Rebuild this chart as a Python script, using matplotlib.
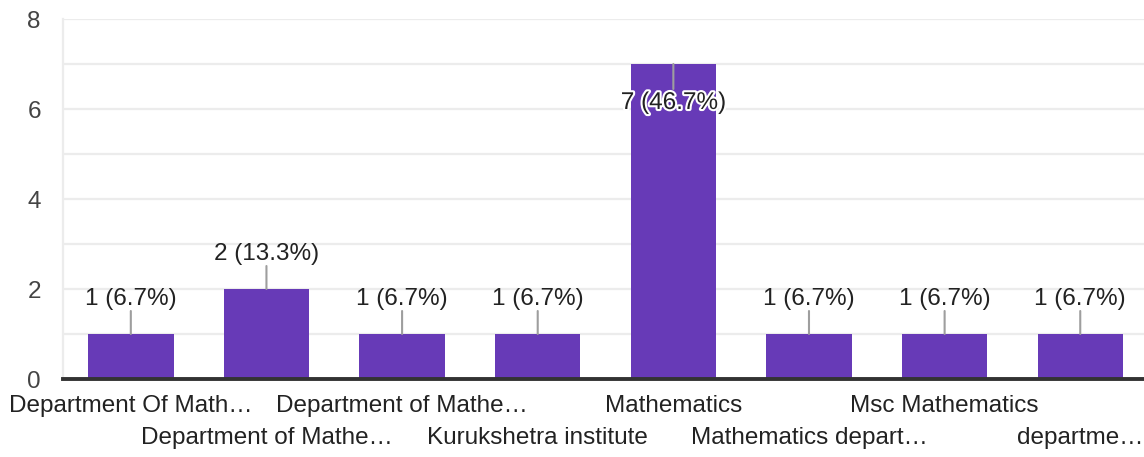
import matplotlib
matplotlib.use("Agg")
import matplotlib.pyplot as plt
import matplotlib.patheffects as pe
import numpy as np

categories = [
    "Department Of Math…",
    "Department of Mathe…",
    "Department of Mathe…",
    "Kurukshetra institute",
    "Mathematics",
    "Mathematics depart…",
    "Msc Mathematics",
    "departme…",
]
counts = [1, 2, 1, 1, 7, 1, 1, 1]
total = sum(counts)

PURPLE = "#673ab7"
TEXT = "#222222"

plt.rcParams["font.family"] = ["Liberation Sans", "DejaVu Sans"]
FS = 17.5

fig = plt.figure(figsize=(11.44, 4.57), dpi=100)
ax = fig.add_axes([63 / 1144, 78 / 457, (1144 - 63) / 1144, 360 / 457])

x = np.arange(len(categories))
ax.bar(x, counts, width=0.63, color=PURPLE, zorder=2)

ax.set_xlim(-0.5, 7.47)
ax.set_ylim(0, 8)
ax.set_yticks(range(0, 9, 2))
ax.set_yticks(range(0, 9), minor=True)
ax.tick_params(axis="y", which="both", length=0, pad=16, labelsize=FS, labelcolor="#444444")
ax.set_xticks([])
ax.grid(axis="y", which="both", color="#ececec", lw=1.6, zorder=0)
ax.set_axisbelow(True)

for s in ("top", "right"):
    ax.spines[s].set_visible(False)
ax.spines["left"].set_color("#ececec")
ax.spines["left"].set_linewidth(1.6)
ax.spines["bottom"].set_color("#333333")
ax.spines["bottom"].set_linewidth(2.8)
ax.spines["bottom"].set_zorder(3)

# value labels with leader lines
ymax = ax.get_ylim()[1]
for xi, c in zip(x, counts):
    label = f"{c} ({c / total * 100:.1f}%)"
    if c / ymax > 0.8:
        ax.annotate("", xy=(xi, c), xytext=(0, -25), textcoords="offset pixels",
                    arrowprops=dict(arrowstyle="-", color="#9e9e9e", lw=1.5,
                                    shrinkA=0, shrinkB=0), zorder=4)
        ax.annotate(label, xy=(xi, c), xytext=(0, -39), textcoords="offset pixels",
                    ha="center", va="center", fontsize=FS, color=TEXT, zorder=5,
                    path_effects=[pe.withStroke(linewidth=3, foreground="white")])
    else:
        ax.annotate("", xy=(xi, c), xytext=(0, 23), textcoords="offset pixels",
                    arrowprops=dict(arrowstyle="-", color="#9e9e9e", lw=1.5,
                                    shrinkA=0, shrinkB=0), zorder=4)
        ax.annotate(label, xy=(xi, c), xytext=(0, 35), textcoords="offset pixels",
                    ha="center", va="center", fontsize=FS, color=TEXT, zorder=5)

# staggered category labels
for i, name in enumerate(categories):
    off = -27 if i % 2 == 0 else -59
    ax.annotate(name, xy=(i, 0), xycoords=("data", "axes fraction"),
                xytext=(0, off), textcoords="offset pixels",
                ha="center", va="center", fontsize=FS, color=TEXT,
                annotation_clip=False)

fig.savefig("out.png", dpi=100, facecolor="white")
